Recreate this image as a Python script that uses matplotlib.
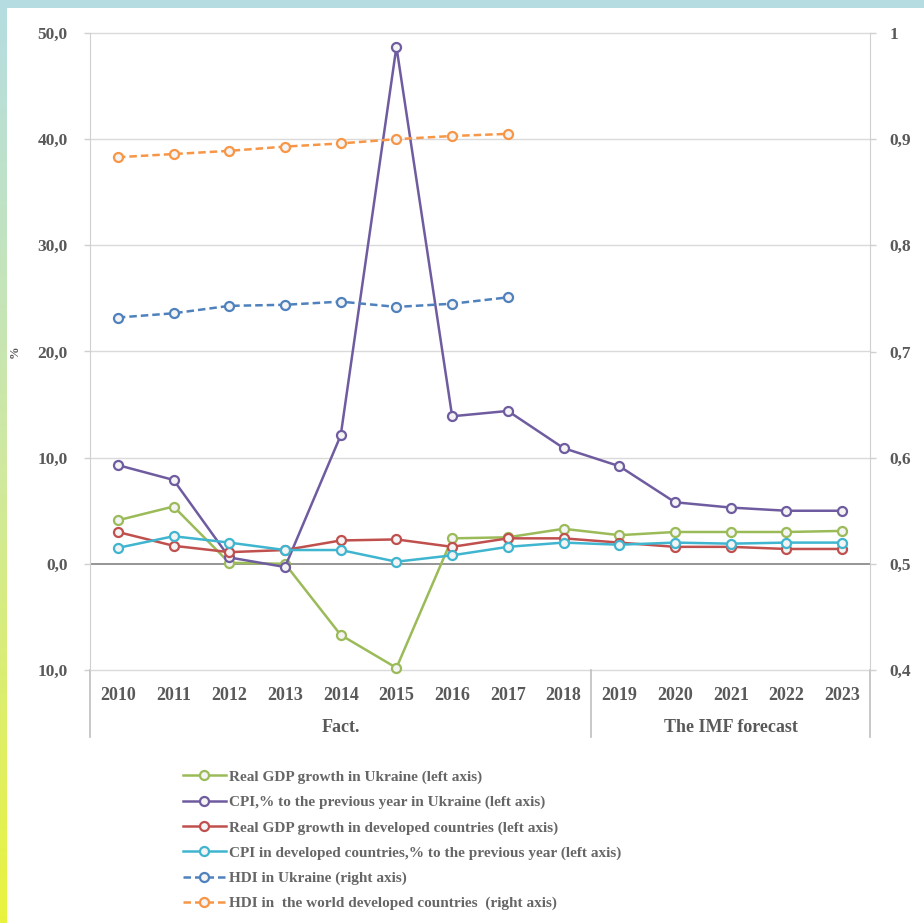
import numpy as np
import matplotlib
matplotlib.use("Agg")
import matplotlib.pyplot as plt
from matplotlib.patches import Rectangle
from matplotlib.lines import Line2D
from matplotlib.colors import LinearSegmentedColormap

# Daten
years = ["2010", "2011", "2012", "2013", "2014", "2015", "2016",
         "2017", "2018", "2019", "2020", "2021", "2022", "2023"]
gdp_ua = [4.1, 5.4, 0.1, 0.0, -6.7, -9.8, 2.4, 2.5, 3.3, 2.7, 3.0, 3.0, 3.0, 3.1]
cpi_ua = [9.3, 7.9, 0.6, -0.3, 12.1, 48.7, 13.9, 14.4, 10.9, 9.2, 5.8, 5.3, 5.0, 5.0]
gdp_dev = [3.0, 1.7, 1.1, 1.3, 2.2, 2.3, 1.6, 2.4, 2.4, 2.0, 1.6, 1.6, 1.4, 1.4]
cpi_dev = [1.5, 2.6, 2.0, 1.3, 1.3, 0.2, 0.8, 1.6, 2.0, 1.8, 2.0, 1.9, 2.0, 2.0]
hdi_ua = [0.732, 0.736, 0.743, 0.744, 0.747, 0.742, 0.745, 0.751]
hdi_dev = [0.883, 0.886, 0.889, 0.893, 0.896, 0.900, 0.903, 0.905]

left_ticks = [-10, 0, 10, 20, 30, 40, 50]
left_labels = ["10,0", "0,0", "10,0", "20,0", "30,0", "40,0", "50,0"]
right_ticks = [0.4, 0.5, 0.6, 0.7, 0.8, 0.9, 1.0]
right_labels = ["0,4", "0,5", "0,6", "0,7", "0,8", "0,9", "1"]

groups = ["Fact.", "The IMF forecast"]
group_sizes = [9, 5]

labels = ["Real GDP growth in Ukraine (left axis)",
          "CPI,% to the previous year in Ukraine (left axis)",
          "Real GDP growth in developed countries (left axis)",
          "CPI in developed countries,% to the previous year (left axis)",
          "HDI in Ukraine (right axis)",
          "HDI in  the world developed countries  (right axis)"]

c_green = "#9BBB59"
c_purple = "#6F5CA0"
c_red = "#C0504D"
c_cyan = "#3FB5CF"
c_blue = "#4F81BD"
c_orange = "#F79646"
grau = "#595959"

plt.rcParams['font.family'] = ['Liberation Serif', 'DejaVu Serif']

W, H = 924, 923
fig = plt.figure(figsize=(W / 100, H / 100), dpi=100)
fig.patch.set_facecolor("white")

# Rahmen oben und Farbverlauf links
fig.patches.append(Rectangle((0, 1 - 8 / H), 1, 8 / H, transform=fig.transFigure,
                             facecolor="#B5DDE1", edgecolor="none", zorder=0))
ax_bg = fig.add_axes([0, 0, 7 / W, 1 - 8 / H])
grad = np.linspace(0, 1, 256).reshape(-1, 1)
cmap = LinearSegmentedColormap.from_list("rand", ["#B5DDE1", "#CFE9A0", "#E9F33E"])
ax_bg.imshow(grad, aspect="auto", cmap=cmap, extent=[0, 1, 0, 1])
ax_bg.axis("off")

x = np.arange(len(years))
ax = fig.add_axes([90 / W, 1 - 670 / H, 780 / W, 637 / H])
ax2 = ax.twinx()

ax.set_xlim(-0.5, len(years) - 0.5)
ax.set_ylim(-10, 50)
ax2.set_ylim(0.4, 1.0)

mk = dict(marker="o", markersize=6.5, markerfacecolor="#F4F4F4", markeredgewidth=1.6, lw=1.8)

h1, = ax.plot(x, gdp_ua, color=c_green, markeredgecolor=c_green, zorder=3, clip_on=False, **mk)
h2, = ax.plot(x, cpi_ua, color=c_purple, markeredgecolor=c_purple, zorder=3, **mk)
h3, = ax.plot(x, gdp_dev, color=c_red, markeredgecolor=c_red, zorder=3, **mk)
h4, = ax.plot(x, cpi_dev, color=c_cyan, markeredgecolor=c_cyan, zorder=4, **mk)
h5, = ax2.plot(x[:len(hdi_ua)], hdi_ua, color=c_blue, markeredgecolor=c_blue,
               ls=(0, (3, 1.6)), **mk)
h6, = ax2.plot(x[:len(hdi_dev)], hdi_dev, color=c_orange, markeredgecolor=c_orange,
               ls=(0, (3, 1.6)), **mk)

# Gitternetz
for t in left_ticks:
    if t == 0:
        ax.axhline(t, color="#8C8C8C", lw=1.3, zorder=1)
    else:
        ax.axhline(t, color="#DADADA", lw=1.0, zorder=1, clip_on=False)

ax.set_yticks(left_ticks)
ax.set_yticklabels(left_labels)
ax2.set_yticks(right_ticks)
ax2.set_yticklabels(right_labels)
ax.set_xticks([])
ax2.set_xticks([])

for a in (ax, ax2):
    a.tick_params(axis="y", colors="#D0D0D0", labelcolor=grau, labelsize=12.5, length=4, width=1)
    for lab in a.get_yticklabels():
        lab.set_fontweight("bold")
    for s in a.spines.values():
        s.set_visible(False)
ax.tick_params(axis="y", pad=12)
ax2.tick_params(axis="y", pad=10)
ax.spines["left"].set_visible(True)
ax.spines["left"].set_color("#D0D0D0")
ax2.spines["right"].set_visible(True)
ax2.spines["right"].set_color("#D0D0D0")

ax.set_ylabel("%", color=grau, fontsize=9, fontweight="bold", labelpad=2)
ax.yaxis.set_label_coords(-69 / 780, 0.5)

# Kategorieachse mit zwei Ebenen
trans = ax.get_xaxis_transform()
for i, y in enumerate(years):
    ax.text(i, -25 / 637, y, transform=trans, ha="center", va="center",
            fontsize=13, fontweight="bold", color=grau)
start = 0
seps = [-0.5]
for g, n in zip(groups, group_sizes):
    mid = start + (n - 1) / 2
    ax.text(mid, -57 / 637, g, transform=trans, ha="center", va="center",
            fontsize=13, fontweight="bold", color=grau)
    start += n
    seps.append(start - 0.5)
for s in seps:
    ax.add_line(Line2D([s, s], [0, -67 / 637], transform=trans, color="#BFBFBF",
                       lw=1.2, clip_on=False))

# Legende
fig.legend([h1, h2, h3, h4, h5, h6], labels, loc="upper left",
           bbox_to_anchor=(183 / W, 1 - 770 / H), frameon=False,
           prop={"size": 11, "weight": "bold"}, labelcolor="#666666",
           handlelength=2.8, handletextpad=0.2, labelspacing=0.75,
           borderaxespad=0, borderpad=0)

fig.savefig("out.png", dpi=100, facecolor=fig.get_facecolor())
